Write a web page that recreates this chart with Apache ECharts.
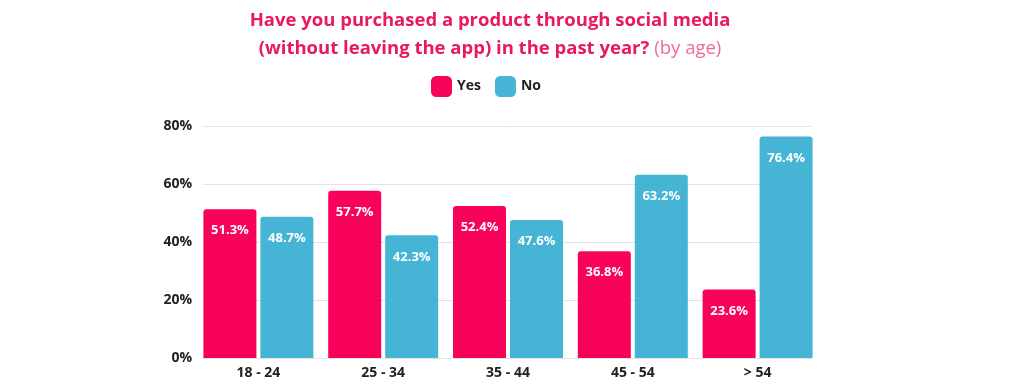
<!DOCTYPE html>
<html>
<head>
<meta charset="utf-8">
<script src="https://cdn.jsdelivr.net/npm/echarts@6/dist/echarts.min.js"></script>
<style>html,body{margin:0;padding:0;background:#fff;}#c{width:1024px;height:390px;}</style>
</head>
<body>
<div id="c"></div>
<script>
const categories = ['18 - 24', '25 - 34', '35 - 44', '45 - 54', '> 54'];
const yesValues = [51.3, 57.7, 52.4, 36.8, 23.6];
const noValues = [48.7, 42.3, 47.6, 63.2, 76.4];
const yTicks = [0, 20, 40, 60, 80];
const seriesNames = ['Yes', 'No'];

const FONT = '"Open Sans", sans-serif';
const RED = '#F7035C';
const BLUE = '#46B4D4';

const chart = echarts.init(document.getElementById('c'), null, {renderer: 'canvas'});
const labelOpt = {
  show: true, position: 'insideTop', distance: 15,
  color: '#fff', fontFamily: FONT, fontWeight: 700, fontSize: 13,
  formatter: p => p.value.toFixed(1) + '%'
};
chart.setOption({
  backgroundColor: '#fff',
  animation: false,
  title: {
    left: 485, top: 2, textAlign: 'center',
    text: '{a|Have you purchased a product through social media}\n{a|(without leaving the app) in the past year?} {b|(by age)}',
    textStyle: {
      rich: {
        a: {fontFamily: FONT, fontWeight: 700, fontSize: 18.5, color: '#E8195E', lineHeight: 28},
        b: {fontFamily: FONT, fontWeight: 400, fontSize: 18.5, color: '#EF6A95', lineHeight: 28}
      }
    }
  },
  legend: {
    top: 71, left: 426,
    icon: 'roundRect', itemWidth: 21, itemHeight: 21, itemGap: 14,
    textStyle: {fontFamily: FONT, fontWeight: 700, fontSize: 14, color: '#222'},
    data: seriesNames
  },
  grid: [
    {left: 196, right: 204, top: 126, bottom: 32},
    {left: 203, right: 212, top: 126, bottom: 32}
  ],
  xAxis: [
    {type: 'category', gridIndex: 0, data: categories,
     axisLine: {show: false}, axisTick: {show: false},
     axisLabel: {fontFamily: FONT, fontWeight: 700, fontSize: 14, color: '#222', margin: 8}},
    {type: 'category', gridIndex: 1, data: categories, show: false}
  ],
  yAxis: [
    {type: 'value', gridIndex: 0, min: 0, max: 80, interval: 20,
     axisLine: {show: false}, axisTick: {show: false}, splitLine: {show: false},
     axisLabel: {show: false}},
    {type: 'value', gridIndex: 1, min: 0, max: 80, interval: 20,
     axisLine: {show: false}, axisTick: {show: false},
     splitLine: {show: true, lineStyle: {color: '#E2E2E2', width: 1}},
     axisLabel: {fontFamily: FONT, fontWeight: 700, fontSize: 14, color: '#222', margin: 11,
                 formatter: v => yTicks.includes(v) ? v + '%' : ''}}
  ],
  series: [
    {name: seriesNames[0], type: 'bar', xAxisIndex: 0, yAxisIndex: 0, data: yesValues,
     barWidth: 53, barGap: '7.5%', itemStyle: {color: RED, borderRadius: [3, 3, 0, 0]}, label: labelOpt},
    {name: seriesNames[1], type: 'bar', xAxisIndex: 0, yAxisIndex: 0, data: noValues,
     barWidth: 53, barGap: '7.5%', itemStyle: {color: BLUE, borderRadius: [3, 3, 0, 0]}, label: labelOpt}
  ],
  color: [RED, BLUE]
});
</script>
</body>
</html>
